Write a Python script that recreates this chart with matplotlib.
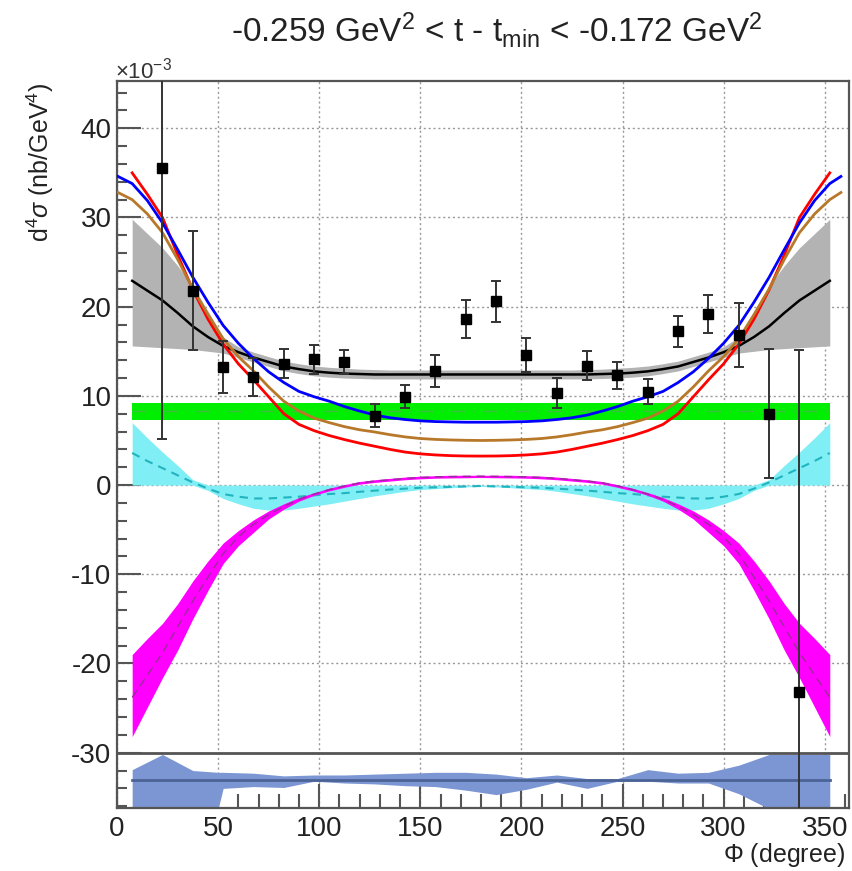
import matplotlib
matplotlib.use("Agg")
import matplotlib.pyplot as plt
from matplotlib.ticker import MultipleLocator, FixedLocator

plt.rcParams["font.family"] = ["Liberation Sans", "DejaVu Sans"]
plt.rcParams["mathtext.fontset"] = "custom"
plt.rcParams["mathtext.rm"] = "Liberation Sans"
plt.rcParams["mathtext.it"] = "Liberation Sans:italic"
plt.rcParams["mathtext.sf"] = "Liberation Sans"
plt.rcParams["axes.unicode_minus"] = False

# --- data points (x 1e-3 nb/GeV^4) ---
PHI_DATA = [22.5, 37.5, 52.5, 67.5, 82.5, 97.5, 112.5, 127.5, 142.5, 157.5, 172.5,
            187.5, 202.5, 217.5, 232.5, 247.5, 262.5, 277.5, 292.5, 307.5, 322.5, 337.5]
XSEC = [35.6, 21.8, 13.25, 12.1, 13.6, 14.1, 13.8, 7.8, 9.9, 12.8, 18.6,
        20.6, 14.6, 10.3, 13.4, 12.3, 10.45, 17.25, 19.2, 16.8, 8.0, -23.2]
XSEC_ERR = [30.4, 6.7, 2.9, 2.1, 1.65, 1.6, 1.3, 1.3, 1.3, 1.8, 2.1,
            2.3, 1.9, 1.7, 1.6, 1.5, 1.4, 1.75, 2.15, 3.6, 7.2, 38.3]

# --- model curves ---
PHI_MODEL = [7.5, 15.0, 22.5, 30.0, 37.5, 45.0, 52.5, 60.0, 67.5, 75.0, 82.5, 90.0,
             97.5, 105.0, 112.5, 120.0, 127.5, 135.0, 142.5, 150.0, 157.5, 165.0, 172.5, 180.0,
             187.5, 195.0, 202.5, 210.0, 217.5, 225.0, 232.5, 240.0, 247.5, 255.0, 262.5, 270.0,
             277.5, 285.0, 292.5, 300.0, 307.5, 315.0, 322.5, 330.0, 337.5, 345.0, 352.5]
PHI_EDGE = [0.5] + PHI_MODEL + [358.0]

RED = [35.0, 32.6, 30.0, 25.8, 21.9, 18.6, 15.8, 13.6, 11.8, 9.9, 8.0, 6.8,
       6.1, 5.55, 5.1, 4.7, 4.35, 4.0, 3.7, 3.5, 3.38, 3.3, 3.26, 3.25,
       3.26, 3.3, 3.38, 3.5, 3.7, 4.0, 4.35, 4.7, 5.1, 5.55, 6.1, 6.8,
       8.0, 9.9, 11.8, 13.6, 15.8, 18.6, 21.9, 25.8, 30.0, 32.6, 35.0]
BLUE = [34.6, 33.8, 31.9, 29.4, 26.4, 23.3, 20.5, 17.9, 15.9, 14.2, 12.7, 11.5, 10.5,
        9.9, 9.4, 8.8, 8.3, 7.85, 7.55, 7.35, 7.2, 7.12, 7.08, 7.05, 7.05,
        7.05, 7.08, 7.12, 7.2, 7.35, 7.55, 7.85, 8.3, 8.8, 9.4, 9.9,
        10.5, 11.5, 12.7, 14.2, 15.9, 17.9, 20.5, 23.3, 26.4, 29.4, 31.9, 33.8, 34.6]
BROWN = [32.8, 32.0, 30.4, 28.3, 25.3, 22.0, 19.1, 16.4, 14.4, 12.8, 11.0, 9.4, 8.3,
         7.5, 7.0, 6.55, 6.2, 5.95, 5.65, 5.4, 5.22, 5.12, 5.06, 5.02, 5.0,
         5.02, 5.06, 5.12, 5.22, 5.4, 5.65, 5.95, 6.2, 6.55, 7.0, 7.5,
         8.3, 9.4, 11.0, 12.8, 14.4, 16.4, 19.1, 22.0, 25.3, 28.3, 30.4, 32.0, 32.8]
BLACK = [22.9, 21.8, 20.7, 19.3, 17.8, 16.6, 15.6, 14.9, 14.3, 13.8, 13.3, 13.0,
         12.75, 12.6, 12.5, 12.45, 12.4, 12.4, 12.4, 12.4, 12.4, 12.4, 12.4, 12.4,
         12.4, 12.4, 12.4, 12.4, 12.4, 12.4, 12.4, 12.45, 12.5, 12.6, 12.75, 13.0,
         13.3, 13.8, 14.3, 14.9, 15.6, 16.6, 17.8, 19.3, 20.7, 21.8, 22.9]
GRAY_HI = [29.8, 28.2, 26.6, 24.6, 22.3, 19.5, 16.6, 15.5, 14.9, 14.4, 13.9, 13.6,
           13.35, 13.2, 13.1, 13.0, 12.95, 12.9, 12.9, 12.9, 12.9, 12.9, 12.9, 12.9,
           12.9, 12.9, 12.9, 12.9, 12.9, 12.9, 12.95, 13.0, 13.1, 13.2, 13.35, 13.6,
           13.9, 14.4, 14.9, 15.5, 16.6, 19.5, 22.3, 24.6, 26.6, 28.2, 29.8]
GRAY_LO = [15.6, 15.5, 15.4, 15.3, 15.2, 15.0, 14.8, 14.3, 13.8, 13.3, 12.8, 12.5,
           12.25, 12.1, 12.0, 11.95, 11.9, 11.9, 11.9, 11.9, 11.9, 11.9, 11.9, 11.9,
           11.9, 11.9, 11.9, 11.9, 11.9, 11.9, 11.9, 11.95, 12.0, 12.1, 12.25, 12.5,
           12.8, 13.3, 13.8, 14.3, 14.8, 15.0, 15.2, 15.3, 15.4, 15.5, 15.6]
GREEN_PHI = [7.5, 352.5]
GREEN_MID = [8.25, 8.25]
GREEN_LO = [7.3, 7.3]
GREEN_HI = [9.15, 9.15]
CYAN_HI = [7.0, 5.3, 3.7, 2.2, 0.6, 0.0, 0.0, 0.0, 0.0, 0.0, 0.0, 0.0,
           0.0, 0.0, 0.0, 0.0, 0.0, 0.0, 0.0, 0.0, 0.0, 0.0, 0.0, 0.0,
           0.0, 0.0, 0.0, 0.0, 0.0, 0.0, 0.0, 0.0, 0.0, 0.0, 0.0, 0.0,
           0.0, 0.0, 0.0, 0.0, 0.0, 0.0, 0.6, 2.2, 3.7, 5.3, 7.0]
CYAN_LO = [0.0, 0.0, 0.0, 0.0, 0.0, -0.6, -1.5, -2.1, -2.6, -2.8, -2.8, -2.6,
           -2.35, -2.1, -1.8, -1.5, -1.2, -0.95, -0.7, -0.5, -0.4, -0.3, -0.2, -0.15,
           -0.2, -0.3, -0.4, -0.5, -0.7, -0.95, -1.2, -1.5, -1.8, -2.1, -2.35, -2.6,
           -2.8, -2.8, -2.6, -2.1, -1.5, -0.6, 0.0, 0.0, 0.0, 0.0, 0.0]
CYAN_MID = [3.6, 2.7, 1.9, 1.1, 0.3, -0.4, -1.0, -1.3, -1.5, -1.5, -1.4, -1.3,
            -1.15, -1.0, -0.9, -0.75, -0.62, -0.5, -0.4, -0.3, -0.25, -0.2, -0.15, -0.1,
            -0.15, -0.2, -0.25, -0.3, -0.4, -0.5, -0.62, -0.75, -0.9, -1.0, -1.15, -1.3,
            -1.4, -1.5, -1.5, -1.3, -1.0, -0.4, 0.3, 1.1, 1.9, 2.7, 3.6]
MAG_MID = [-23.8, -21.3, -18.8, -15.9, -13.0, -10.3, -7.7, -5.8, -4.4, -3.3, -2.4, -1.6,
           -1.0, -0.5, -0.1, 0.25, 0.45, 0.6, 0.75, 0.85, 0.92, 0.95, 0.98, 1.0,
           0.98, 0.95, 0.92, 0.85, 0.75, 0.6, 0.45, 0.25, -0.1, -0.5, -1.0, -1.6,
           -2.4, -3.3, -4.4, -5.8, -7.7, -10.3, -13.0, -15.9, -18.8, -21.3, -23.8]
MAG_HI = [-19.0, -17.2, -15.5, -13.3, -10.75, -8.5, -6.5, -5.1, -3.9, -2.9, -2.1, -1.4,
          -0.85, -0.35, 0.05, 0.4, 0.6, 0.75, 0.9, 1.0, 1.05, 1.1, 1.1, 1.1,
          1.1, 1.1, 1.05, 1.0, 0.9, 0.75, 0.6, 0.4, 0.05, -0.35, -0.85, -1.4,
          -2.1, -2.9, -3.9, -5.1, -6.5, -8.5, -10.75, -13.3, -15.5, -17.2, -19.0]
MAG_LO = [-28.2, -24.9, -21.6, -18.5, -15.0, -11.8, -8.8, -6.8, -5.3, -3.8, -2.7, -1.8,
          -1.15, -0.65, -0.25, 0.1, 0.3, 0.45, 0.6, 0.7, 0.77, 0.8, 0.82, 0.85,
          0.82, 0.8, 0.77, 0.7, 0.6, 0.45, 0.3, 0.1, -0.25, -0.65, -1.15, -1.8,
          -2.7, -3.8, -5.3, -6.8, -8.8, -11.8, -15.0, -18.5, -21.6, -24.9, -28.2]

# --- lower strip (offset residual band) ---
RES_PHI = [7.5, 22.5, 37.5, 50.0, 52.5, 67.5, 82.5, 97.5, 112.5, 127.5, 142.5, 157.5,
           172.5, 187.5, 202.5, 217.5, 232.5, 247.5, 262.5, 277.5, 292.5, 307.5, 322.5,
           337.5, 352.5]
RES_HI = [-31.9, -30.2, -32.0, -32.2, -32.2, -32.3, -32.6, -32.5, -32.5, -32.4, -32.3, -32.2,
          -32.2, -32.4, -32.8, -32.5, -32.9, -32.9, -31.9, -32.3, -32.2, -31.4, -30.2,
          -30.2, -30.2]
RES_LO = [-36.3, -36.3, -36.3, -36.3, -34.0, -33.8, -33.9, -33.2, -33.4, -33.5, -33.7, -33.8,
          -34.2, -34.7, -34.1, -33.3, -34.0, -33.2, -33.2, -33.4, -33.4, -34.6, -36.3,
          -36.3, -36.3]
RES_LINE = -33.05
SEPARATOR = -30.0

W, H = 853, 871
fig = plt.figure(figsize=(W / 100, H / 100), dpi=100)
ax = fig.add_axes([117 / W, 1 - 808 / H, (849 - 117) / W, (808 - 81) / H])
ax.set_xlim(0, 362)
ax.set_ylim(-36.2, 45.3)

ax.fill_between(PHI_MODEL, GRAY_LO, GRAY_HI, color="#b3b3b3", lw=0, zorder=2)
ax.fill_between(GREEN_PHI, GREEN_LO, GREEN_HI, color="#00ee00", lw=0, zorder=2)
ax.plot(GREEN_PHI, GREEN_MID, color="#3fbf3f", lw=1, ls=(0, (10, 6, 1, 6)), zorder=2.5)
ax.fill_between(PHI_MODEL, CYAN_LO, CYAN_HI, color="#80eef5", lw=0, zorder=2)
ax.plot(PHI_MODEL, CYAN_MID, color="#22b4be", lw=1.5, ls=(0, (4, 3)), zorder=2.5)
ax.fill_between(PHI_MODEL, MAG_LO, MAG_HI, color="#ff00ff", lw=0, zorder=3)
ax.plot(PHI_MODEL, MAG_MID, color="#9a2c9a", lw=1, ls=(0, (6, 4)), zorder=3.5)

ax.plot(PHI_MODEL, BLACK, color="black", lw=1.8, zorder=4)
ax.plot(PHI_MODEL, RED, color="#ff0000", lw=2.0, zorder=4)
ax.plot(PHI_EDGE, BROWN, color="#b8782a", lw=2.0, zorder=4)
ax.plot(PHI_EDGE, BLUE, color="#0000ff", lw=2.0, zorder=4)

ax.fill_between(RES_PHI, RES_LO, RES_HI, color="#7b96d2", lw=0, zorder=2)
ax.plot([RES_PHI[0], RES_PHI[-1]], [RES_LINE, RES_LINE], color="#4c6396", lw=2, zorder=2.5)
ax.axhline(SEPARATOR, color="#555555", lw=2, zorder=3)

ax.errorbar(PHI_DATA, XSEC, yerr=XSEC_ERR, fmt="s", color="black", ms=7,
            ecolor="#333333", elinewidth=1.4, capsize=3.5, capthick=1.4, zorder=6)

ax.xaxis.set_major_locator(MultipleLocator(50))
ax.xaxis.set_minor_locator(MultipleLocator(10))
ax.yaxis.set_major_locator(FixedLocator([-30, -20, -10, 0, 10, 20, 30, 40]))
ax.yaxis.set_minor_locator(MultipleLocator(2))
ax.grid(True, which="major", ls=(0, (1.5, 2)), color="#999999", lw=1, zorder=1)
ax.set_axisbelow(True)

for sp in ax.spines.values():
    sp.set_color("#555555")
    sp.set_linewidth(1.6)
ax.tick_params(which="both", direction="in", colors="#555555", width=1.5,
               top=False, right=False, labelsize=20, labelcolor="#222222")
ax.tick_params(axis="y", which="major", length=17, pad=4)
ax.tick_params(axis="y", which="minor", length=7)
ax.tick_params(axis="x", which="major", length=17, pad=6)
ax.tick_params(axis="x", which="minor", length=10)

fig.text(497 / W, 1 - 30 / H,
         r"-0.259 GeV$^{2}$ < t - t$_{\rm min}$ < -0.172 GeV$^{2}$",
         ha="center", va="center", fontsize=24, color="#222222")
fig.text(115 / W, 1 - 79 / H, r"$\times$10$^{-3}$", ha="left", va="baseline",
         fontsize=16, color="#333333")
fig.text(40 / W, 1 - 83 / H, r"d$^{4}\sigma$ (nb/GeV$^{4}$)", rotation=90,
         ha="center", va="top", fontsize=18, color="#222222")
fig.text(845 / W, 1 - 862 / H, r"$\Phi$ (degree)", ha="right", va="baseline",
         fontsize=18, color="#222222")

fig.savefig("out.png", dpi=100, facecolor="white")
